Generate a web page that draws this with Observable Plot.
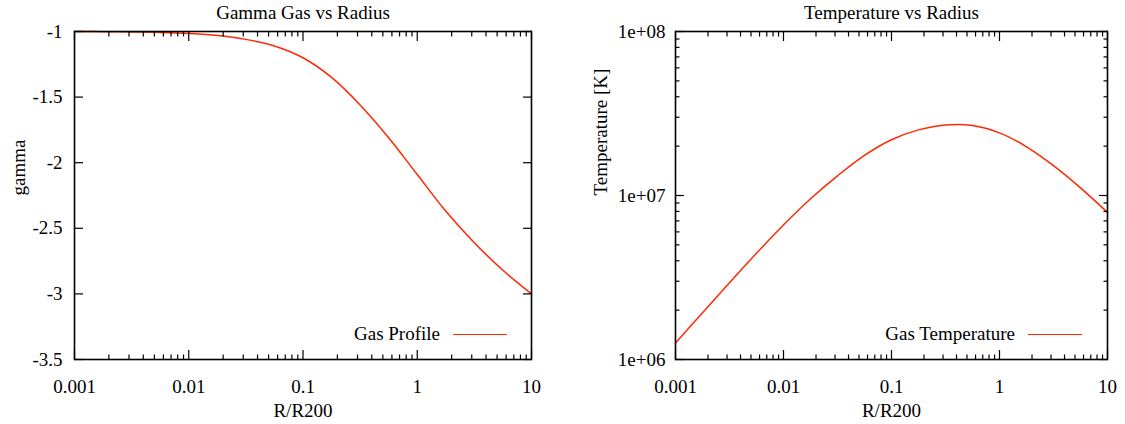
<!DOCTYPE html>
<html><head><meta charset="utf-8">
<script src="https://cdn.jsdelivr.net/npm/d3@7"></script>
<script src="https://cdn.jsdelivr.net/npm/@observablehq/plot@0.6"></script>
<style>
html,body{margin:0;padding:0;background:#fff;overflow:hidden}
#wrap{display:flex;width:1125px;height:424px}
.panel{position:relative}
.legend{position:absolute;display:flex;align-items:center;font-family:"Liberation Serif",serif;font-size:19px;color:#000;white-space:nowrap;line-height:20px}
.legend .swatch{display:inline-block;width:54px;height:0;border-top:1.5px solid #ff2800;margin-left:13px}
</style></head><body><div id="wrap"></div>
<script>
// ---- data ----
const radius = [0.001, 0.00178, 0.00316, 0.00562, 0.01, 0.0178, 0.0316, 0.0562, 0.1, 0.178, 0.316, 0.562, 1, 1.78, 3.16, 5.62, 10];
const gammaGas = [-1.000, -1.001, -1.003, -1.007, -1.015, -1.030, -1.060, -1.110, -1.200, -1.350, -1.560, -1.810, -2.090, -2.370, -2.610, -2.820, -3.000];
const temperature = [1.259e6, 1.928e6, 2.938e6, 4.446e6, 6.607e6, 9.55e6, 1.318e7, 1.758e7, 2.188e7, 2.512e7, 2.692e7, 2.673e7, 2.410e7, 1.982e7, 1.521e7, 1.114e7, 7.889e6];

const xTicks = [0.001, 0.01, 0.1, 1, 10];
const xTickLabels = ["0.001", "0.01", "0.1", "1", "10"];
const gammaTicks = [-1, -1.5, -2, -2.5, -3, -3.5];
const gammaTickLabels = ["-1", "-1.5", "-2", "-2.5", "-3", "-3.5"];
const tempTicks = [1e6, 1e7, 1e8];
const tempTickLabels = ["1e+06", "1e+07", "1e+08"];

const titles = ["Gamma Gas vs Radius", "Temperature vs Radius"];
const yLabels = ["gamma", "Temperature [K]"];
const xLabel = "R/R200";
const legendLabels = ["Gas Profile", "Gas Temperature"];
const lineColor = "#ff2800";

function minorsOf(majors) {
  const out = [];
  for (let i = 0; i < majors.length - 1; i++) for (let m = 2; m <= 9; m++) out.push(majors[i] * m);
  return out;
}
const xMinor = minorsOf(xTicks);
const tempMinor = minorsOf(tempTicks);

function tickAxes(axis, ticks, anchors, size) {
  return anchors.map(a => axis(ticks, {anchor: a, tickSize: -size, fill: "none", strokeWidth: 1.2, label: null}));
}

function makePanel({width, marginLeft, marginRight, yScale, yTicks, yTickLabels, yMinor, yPad, yLabelDx, data, title, yLabel, legend, legendRight}) {
  const marks = [
    Plot.line(data, {x: "r", y: "v", stroke: lineColor, strokeWidth: 1.5, curve: "catmull-rom"}),
    ...tickAxes(Plot.axisX, xTicks, ["bottom", "top"], 9),
    ...tickAxes(Plot.axisX, xMinor, ["bottom", "top"], 4.5),
    ...tickAxes(Plot.axisY, yTicks, ["left", "right"], 9),
    ...(yMinor ? tickAxes(Plot.axisY, yMinor, ["left", "right"], 4.5) : []),
    Plot.axisX(xTicks, {anchor: "bottom", tickSize: 0, tickPadding: 20, label: null,
      tickFormat: d => xTickLabels[xTicks.indexOf(d)]}),
    Plot.axisY(yTicks, {anchor: "left", tickSize: 0, tickPadding: yPad, label: null,
      tickFormat: d => yTickLabels[yTicks.indexOf(d)]}),
    Plot.frame({stroke: "black", strokeWidth: 1.6}),
    Plot.text([title], {frameAnchor: "top", dy: -19, lineAnchor: "middle"}),
    Plot.text([xLabel], {frameAnchor: "bottom", dy: 51, lineAnchor: "middle"}),
    Plot.text([yLabel], {frameAnchor: "left", dx: yLabelDx, rotate: -90, lineAnchor: "middle"})
  ];
  const svg = Plot.plot({
    width, height: 424,
    marginTop: 31, marginBottom: 65, marginLeft, marginRight,
    style: {fontFamily: "Liberation Serif, serif", fontSize: "19px", color: "black", background: "white"},
    x: {type: "log", domain: [0.001, 10]},
    y: yScale,
    marks
  });
  const panel = document.createElement("div");
  panel.className = "panel";
  panel.style.width = width + "px";
  panel.appendChild(svg);
  const leg = document.createElement("div");
  leg.className = "legend";
  leg.style.right = legendRight + "px";
  leg.style.top = (334 - 10) + "px";
  const t = document.createElement("span"); t.textContent = legend;
  const s = document.createElement("span"); s.className = "swatch";
  leg.appendChild(t); leg.appendChild(s);
  panel.appendChild(leg);
  return panel;
}

const wrap = document.getElementById("wrap");
wrap.appendChild(makePanel({
  width: 560, marginLeft: 74, marginRight: 29,
  yScale: {type: "linear", domain: [-3.5, -1]},
  yTicks: gammaTicks, yTickLabels: gammaTickLabels, yMinor: null, yPad: 12, yLabelDx: -56,
  data: radius.map((r, i) => ({r, v: gammaGas[i]})),
  title: titles[0], yLabel: yLabels[0], legend: legendLabels[0], legendRight: 560 - 507
}));
wrap.appendChild(makePanel({
  width: 565, marginLeft: 115, marginRight: 18,
  yScale: {type: "log", domain: [1e6, 1e8]},
  yTicks: tempTicks, yTickLabels: tempTickLabels, yMinor: tempMinor, yPad: 10, yLabelDx: -75,
  data: radius.map((r, i) => ({r, v: temperature[i]})),
  title: titles[1], yLabel: yLabels[1], legend: legendLabels[1], legendRight: 565 - (1082 - 560)
}));
</script></body></html>
